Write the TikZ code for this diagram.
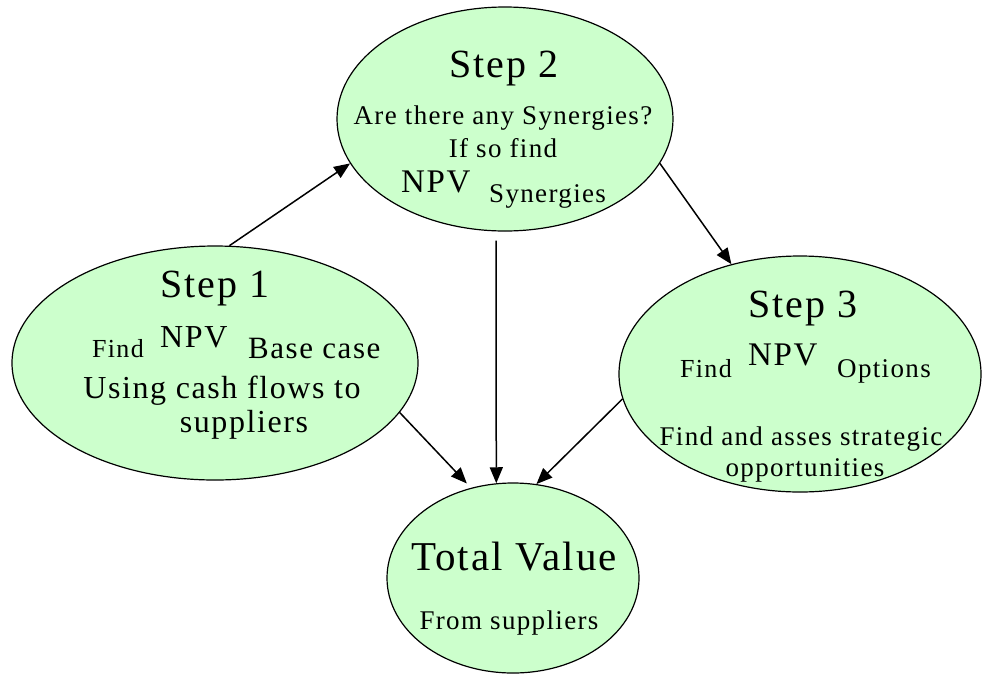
\documentclass[tikz,border=0pt]{standalone}
\usepackage{fontspec}
\setmainfont{Liberation Serif}[LetterSpace=5]
\usetikzlibrary{shapes.geometric,arrows.meta}
\definecolor{paleGreen}{RGB}{204,255,204}
\begin{document}
\begin{tikzpicture}[x=1pt,y=-1pt,
  bubble/.style={ellipse,draw=black,line width=1.2pt,fill=paleGreen,inner sep=0pt},
  conn/.style={-{Triangle[length=16pt,width=13pt]},line width=1.5pt},
  txt/.style={inner sep=0pt,anchor=base},
  fsz/.style={font=\fontsize{#1}{#1}\selectfont}
]
\useasboundingbox (0,0) rectangle (982,673);

% the four stages
\node[bubble,minimum width=336pt,minimum height=224pt] (s2) at (505,119) {};
\node[bubble,minimum width=406pt,minimum height=234pt] (s1) at (215,363) {};
\node[bubble,minimum width=362pt,minimum height=236pt] (s3) at (800,374) {};
\node[bubble,minimum width=252pt,minimum height=190pt] (tv) at (513,578) {};

% flow between the stages
\draw[conn] (s1.83.7) -- (s2.196);
\draw[conn] (s2.344.6) -- (s3.122.7);
\draw[conn] ([xshift=-9pt,yshift=-9pt]s2.south) -- (tv.100.1);
\draw[conn,shorten >=6pt] (s1.345.6) -- (tv.115.6);
\draw[conn] (s3.188.9) -- (tv.76);

% Step 2
\node[txt,fsz=40] (s2title) at (504,77) {Step 2};
\node[txt,fsz=27] (s2q) at (503,124) {Are there any Synergies?};
\node[txt,fsz=27] (s2if) at (503,157) {If so find};
\node[txt,fsz=33,anchor=base west] (s2npv) at (401,192) {NPV};
\node[txt,fsz=27,anchor=base west] (s2sub) at (489,202) {Synergies};

% Step 1
\node[txt,fsz=40] (s1title) at (215,297) {Step 1};
\node[txt,fsz=26,anchor=base west] (s1find) at (92,357) {Find};
\node[txt,fsz=32,anchor=base west] (s1npv) at (160,347) {NPV};
\node[txt,fsz=31,anchor=base west] (s1base) at (248,358) {Base case};
\node[txt,fsz=32] (s1using) at (222,398) {Using cash flows to};
\node[txt,fsz=32] (s1sup) at (244,432) {suppliers};

% Step 3
\node[txt,fsz=40] (s3title) at (803,317) {Step 3};
\node[txt,fsz=26,anchor=base west] (s3find) at (680,377) {Find};
\node[txt,fsz=33,anchor=base west] (s3npv) at (748,365) {NPV};
\node[txt,fsz=27,anchor=base west] (s3opt) at (837,377) {Options};
\node[txt,fsz=27] (s3asses) at (801,445) {Find and asses strategic};
\node[txt,fsz=27] (s3opp) at (805,476) {opportunities};

% Total value
\node[txt,fsz=41] (tvtitle) at (514,570) {Total Value};
\node[txt,fsz=27] (tvfrom) at (509,629) {From suppliers};
\end{tikzpicture}
\end{document}
